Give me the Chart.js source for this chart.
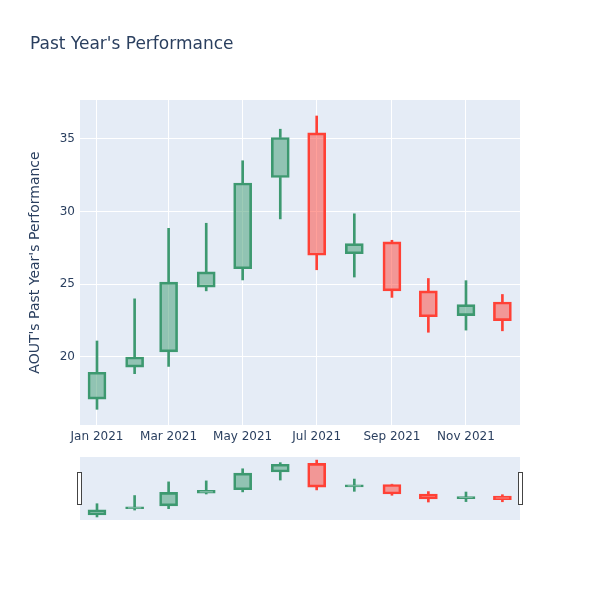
<!DOCTYPE html>
<html>
<head>
<meta charset="utf-8">
<script src="https://cdn.jsdelivr.net/npm/chart.js@4/dist/chart.umd.min.js"></script>
<style>
  body { margin: 0; background: #fff; }
  #wrap { position: relative; width: 600px; height: 600px; }
  canvas { position: absolute; left: 0; }
  #main { top: 0; }
  #slider { top: 440px; }
</style>
</head>
<body>
<div id="wrap">
  <canvas id="main" width="600" height="450"></canvas>
  <canvas id="slider" width="600" height="100"></canvas>
</div>
<script>
// monthly candles
const dates = ["2021-01-01", "2021-02-01", "2021-03-01", "2021-04-01", "2021-05-01", "2021-06-01",
               "2021-07-01", "2021-08-01", "2021-09-01", "2021-10-01", "2021-11-01", "2021-12-01"];
const openV  = [17.1, 19.3, 20.35, 24.8, 26.07, 32.35, 35.42, 27.1, 27.92, 24.55, 22.85, 23.78];
const highV  = [21.1, 24.0, 28.85, 29.2, 33.5, 35.67, 36.58, 29.85, 28.03, 25.4, 25.25, 24.3];
const lowV   = [16.4, 18.85, 19.35, 24.55, 25.3, 29.5, 26.0, 25.5, 24.1, 21.7, 21.85, 21.8];
const closeV = [18.95, 20.0, 25.15, 25.85, 31.97, 35.1, 27.0, 27.8, 24.55, 22.77, 23.6, 22.5];

const tickDates = ["2021-01-01", "2021-03-01", "2021-05-01", "2021-07-01", "2021-09-01", "2021-11-01"];
const tickLabels = ["Jan 2021", "Mar 2021", "May 2021", "Jul 2021", "Sep 2021", "Nov 2021"];
const yTicks = [20, 25, 30, 35];

const upLine = "#3D9970", upFill = "rgba(61,153,112,0.5)";
const dnLine = "#FF4136", dnFill = "rgba(255,65,54,0.5)";
const fontColor = "#2a3f5f";
const fam = "DejaVu Sans";

const day0 = Date.parse("2021-01-01");
const toDay = d => (Date.parse(d) - day0) / 864e5;
const xs = dates.map(toDay);
const tickXs = tickDates.map(toDay);

const yMin = 15.32, yMax = 37.68;
const xMin = -14, xMax = 348.5;

function buildDatasets() {
  let wicks = [], wickColors = [], bodies = [], fills = [], lines = [];
  for (let i = 0; i < xs.length; i++) {
    const up = closeV[i] >= openV[i];
    const lo = Math.min(openV[i], closeV[i]);
    const hi = Math.max(openV[i], closeV[i]);
    wicks.push({ x: xs[i], y: [lowV[i], lo] });
    wicks.push({ x: xs[i], y: [hi, highV[i]] });
    wickColors.push(up ? upLine : dnLine, up ? upLine : dnLine);
    bodies.push({ x: xs[i], y: [openV[i], closeV[i]] });
    fills.push(up ? upFill : dnFill);
    lines.push(up ? upLine : dnLine);
  }
  return [
    { data: wicks, backgroundColor: wickColors, borderWidth: 0, barThickness: 2, grouped: false, order: 2 },
    { data: bodies, backgroundColor: fills, borderColor: lines, borderWidth: 2,
      borderSkipped: false, barThickness: 18, grouped: false, order: 1 }
  ];
}

const plotBg = {
  id: "plotBg",
  beforeDraw(chart) {
    const a = chart.chartArea, ctx = chart.ctx;
    ctx.save();
    ctx.fillStyle = "#E5ECF6";
    ctx.fillRect(a.left, a.top, a.right - a.left, a.bottom - a.top);
    ctx.restore();
  }
};

const titlePlugin = {
  id: "titleText",
  afterDraw(chart) {
    const ctx = chart.ctx;
    ctx.save();
    ctx.font = '17px "' + fam + '"';
    ctx.fillStyle = fontColor;
    ctx.textBaseline = "middle";
    ctx.fillText("Past Year's Performance", 30, 45);
    ctx.restore();
  }
};

new Chart(document.getElementById("main"), {
  type: "bar",
  data: { datasets: buildDatasets() },
  plugins: [plotBg, titlePlugin],
  options: {
    responsive: false,
    animation: false,
    devicePixelRatio: 1,
    layout: { padding: { top: 100, right: 80, left: 0, bottom: 0 } },
    plugins: { legend: { display: false }, tooltip: { enabled: false } },
    scales: {
      x: {
        type: "linear", min: xMin, max: xMax, offset: false,
        grid: { color: "#ffffff", lineWidth: 1, drawTicks: false, offset: false },
        border: { display: false },
        afterBuildTicks: s => { s.ticks = tickXs.map(v => ({ value: v })); },
        afterFit: s => { s.height = 25; },
        ticks: {
          padding: 5, color: fontColor, font: { family: fam, size: 12 },
          maxRotation: 0, autoSkip: false,
          callback: v => tickLabels[tickXs.indexOf(v)]
        }
      },
      y: {
        min: yMin, max: yMax,
        grid: { color: "#ffffff", lineWidth: 1, drawTicks: false },
        border: { display: false },
        afterBuildTicks: s => { s.ticks = yTicks.map(v => ({ value: v })); },
        afterFit: s => { s.width = 80; },
        ticks: { padding: 5, color: fontColor, font: { family: fam, size: 12 } },
        title: {
          display: true, text: "AOUT's Past Year's Performance", color: fontColor,
          font: { family: fam, size: 14 }, padding: { top: 27, bottom: 0 }
        }
      }
    }
  }
});

const handles = {
  id: "handles",
  afterDraw(chart) {
    const a = chart.chartArea, ctx = chart.ctx;
    const mid = (a.top + a.bottom) / 2;
    ctx.save();
    ctx.fillStyle = "#ffffff";
    ctx.strokeStyle = "#444444";
    ctx.lineWidth = 1;
    [a.left - 2.5, a.right - 1.5].forEach(x => {
      ctx.fillRect(x, mid - 16, 4, 32);
      ctx.strokeRect(x, mid - 16, 4, 32);
    });
    ctx.restore();
  }
};

new Chart(document.getElementById("slider"), {
  type: "bar",
  data: { datasets: buildDatasets() },
  plugins: [plotBg, handles],
  options: {
    responsive: false,
    animation: false,
    devicePixelRatio: 1,
    layout: { padding: { top: 17, right: 80, left: 80, bottom: 20 } },
    plugins: { legend: { display: false }, tooltip: { enabled: false } },
    scales: {
      x: { type: "linear", min: xMin, max: xMax, offset: false, display: false },
      y: { min: yMin, max: yMax, display: false }
    }
  }
});
</script>
</body>
</html>
